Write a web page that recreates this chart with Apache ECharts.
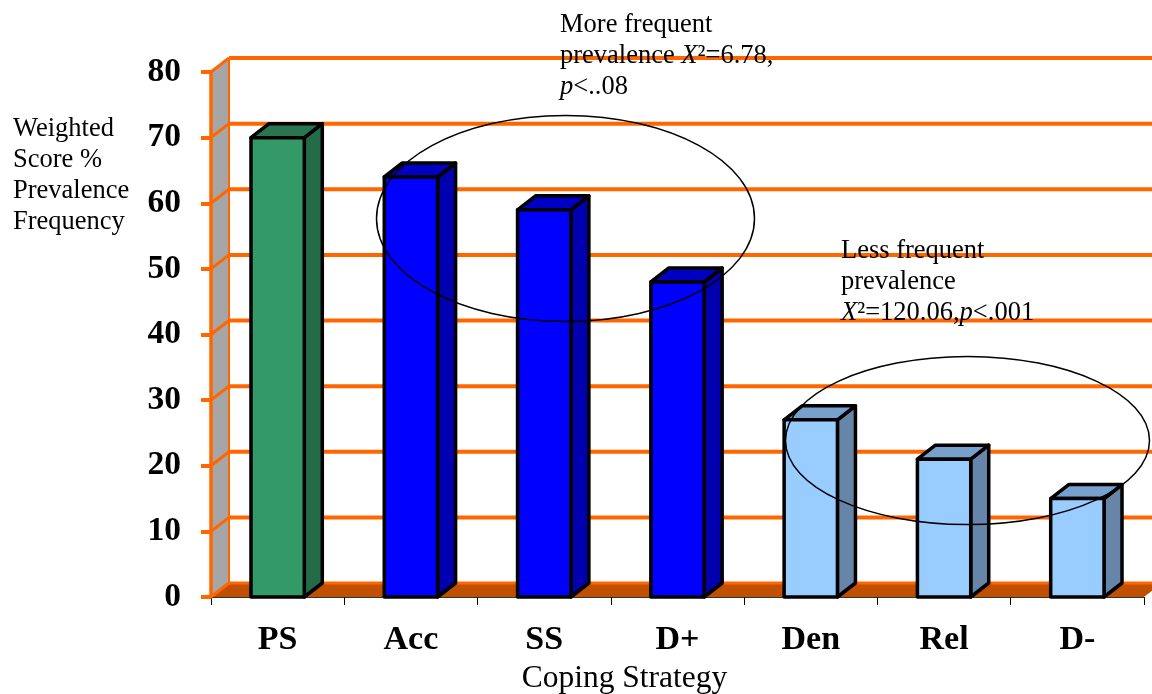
<!DOCTYPE html>
<html><head><meta charset="utf-8">
<style>html,body{margin:0;padding:0;background:#fff}#c{width:1152px;height:694px}</style>
<script src="https://cdn.jsdelivr.net/npm/echarts@6/dist/echarts.min.js"></script>
</head><body><div id="c"></div>
<script>
const categories = ['PS','Acc','SS','D+','Den','Rel','D-'];
const values = [70,64,59,48,27,21,15];
const faceColors = ['#339966','#0000ff','#0000ff','#0000ff','#99ccff','#99ccff','#99ccff'];
const sideColors = ['#246b48','#0000b0','#0000b0','#0000b0','#6685a8','#6685a8','#6685a8'];
const topColors  = ['#29754f','#0000c4','#0000c4','#0000c4','#77a0cc','#77a0cc','#77a0cc'];
const yTicks = [0,10,20,30,40,50,60,70,80];
const SERIF = '"Liberation Serif","Times New Roman",serif';
const DX = 18, DY = -14, ORANGE = '#ff6600';

const chart = echarts.init(document.getElementById('c'), null, {renderer:'canvas'});

function poly(points, fill, stroke, lw){
  return {type:'polygon', shape:{points}, style:{fill, stroke:stroke||'none', lineWidth:lw||0, lineJoin:'round'}};
}
function wallItem(params, api){
  const cs = params.coordSys, x0 = cs.x, x1 = cs.x + cs.width;
  const y0 = api.coord([0,0])[1], yT = api.coord([0,80])[1];
  return {type:'group', children:[
    poly([[x0,yT],[x0+DX,yT+DY],[x0+DX,y0+DY],[x0,y0]], '#a6a6a6'),
    poly([[x0,y0],[x0+DX,y0+DY],[x1+DX,y0+DY],[x1,y0]], '#c05000'),
    {type:'line', shape:{x1:x0+DX,y1:yT+DY,x2:x0+DX,y2:y0+DY}, style:{stroke:ORANGE,lineWidth:2}}
  ]};
}
function gridItem(params, api){
  const cs = params.coordSys, x0 = cs.x, x1 = cs.x + cs.width;
  const y = api.coord([0, api.value(0)])[1];
  return {type:'group', children:[
    {type:'line', shape:{x1:x0,y1:y,x2:x0+DX,y2:y+DY}, style:{stroke:ORANGE,lineWidth:3}},
    {type:'line', shape:{x1:x0+DX,y1:y+DY,x2:x1+DX,y2:y+DY}, style:{stroke:ORANGE,lineWidth:api.value(0)===0?3:4}}
  ]};
}
function barItem(params, api){
  const i = api.value(0), v = api.value(1);
  const c = api.coord([i,v]), b = api.coord([i,0]);
  const w = api.size([1,0])[0]*0.4;
  const l = c[0]-w/2, r = c[0]+w/2, t = c[1], g = b[1];
  const S='#000', LW=3.5;
  return {type:'group', children:[
    poly([[r,t],[r+DX,t+DY],[r+DX,g+DY],[r,g]], sideColors[i], S, LW),
    poly([[l,t],[l+DX,t+DY],[r+DX,t+DY],[r,t]], topColors[i], S, LW),
    poly([[l,t],[r,t],[r,g],[l,g]], faceColors[i], S, LW)
  ]};
}
function note(x,y,text,lh,fs){
  return {type:'text', left:x, top:y, z:20, style:{
    text, fontFamily:SERIF, fontSize:fs, fill:'#000', lineHeight:lh,
    rich:{
      n:{fontFamily:SERIF,fontSize:fs,lineHeight:lh,fill:'#000'},
      i:{fontFamily:SERIF,fontSize:fs,fontStyle:'italic',lineHeight:lh,fill:'#000'}
    }
  }};
}
chart.setOption({
  animation:false,
  backgroundColor:'#fff',
  grid:{left:211,right:8,top:72,bottom:97,containLabel:false,outerBoundsMode:'none'},
  xAxis:{type:'category',data:categories,
    name:'Coping Strategy',nameLocation:'middle',nameGap:66,
    nameTextStyle:{fontFamily:SERIF,fontSize:31.5,color:'#000',padding:[0,106,0,0]},
    axisLine:{lineStyle:{color:'#333',width:1}},
    axisTick:{show:true,alignWithLabel:false,length:8,lineStyle:{color:'#000',width:1}},
    axisLabel:{fontFamily:SERIF,fontWeight:'bold',fontSize:34,color:'#000',margin:26},
    splitLine:{show:false},z:5},
  yAxis:{type:'value',min:0,max:80,interval:10,z:10,
    axisLine:{show:true,lineStyle:{color:ORANGE,width:3.5}},
    axisTick:{show:true,length:10,lineStyle:{color:ORANGE,width:4}},
    axisLabel:{fontFamily:SERIF,fontWeight:'bold',fontSize:33.5,color:'#000',margin:30,padding:[8,0,0,0]},
    splitLine:{show:false}},
  series:[
    {type:'custom',name:'wall',renderItem:wallItem,data:[[0]],coordinateSystem:'cartesian2d',encode:{y:0},silent:true,z:1},
    {type:'custom',name:'grid',renderItem:gridItem,data:yTicks.map(v=>[v]),coordinateSystem:'cartesian2d',encode:{y:0},silent:true,z:2},
    {type:'custom',name:'Weighted Score',renderItem:barItem,data:values.map((v,i)=>[i,v]),coordinateSystem:'cartesian2d',encode:{x:0,y:1},z:6}
  ],
  graphic:[
    note(13,114,'Weighted\nScore %\nPrevalence\nFrequency',31,26.5),
    note(560,10,'{n|More frequent}\n{n|prevalence }{i|X}{n|²=6.78,}\n{i|p}{n|<..08}',31,26.5),
    note(841,236,'{n|Less frequent}\n{n|prevalence}\n{i|X}{n|²=120.06,}{i|p}{n|<.001}',31,26.5),
    {type:'ellipse',left:374,top:113,z:18,shape:{cx:189,cy:103,rx:189,ry:103},style:{fill:'none',stroke:'#000',lineWidth:1.5}},
    {type:'ellipse',left:783,top:354,z:18,shape:{cx:182,cy:84,rx:182,ry:84},style:{fill:'none',stroke:'#000',lineWidth:1.5}}
  ]
});
</script></body></html>
